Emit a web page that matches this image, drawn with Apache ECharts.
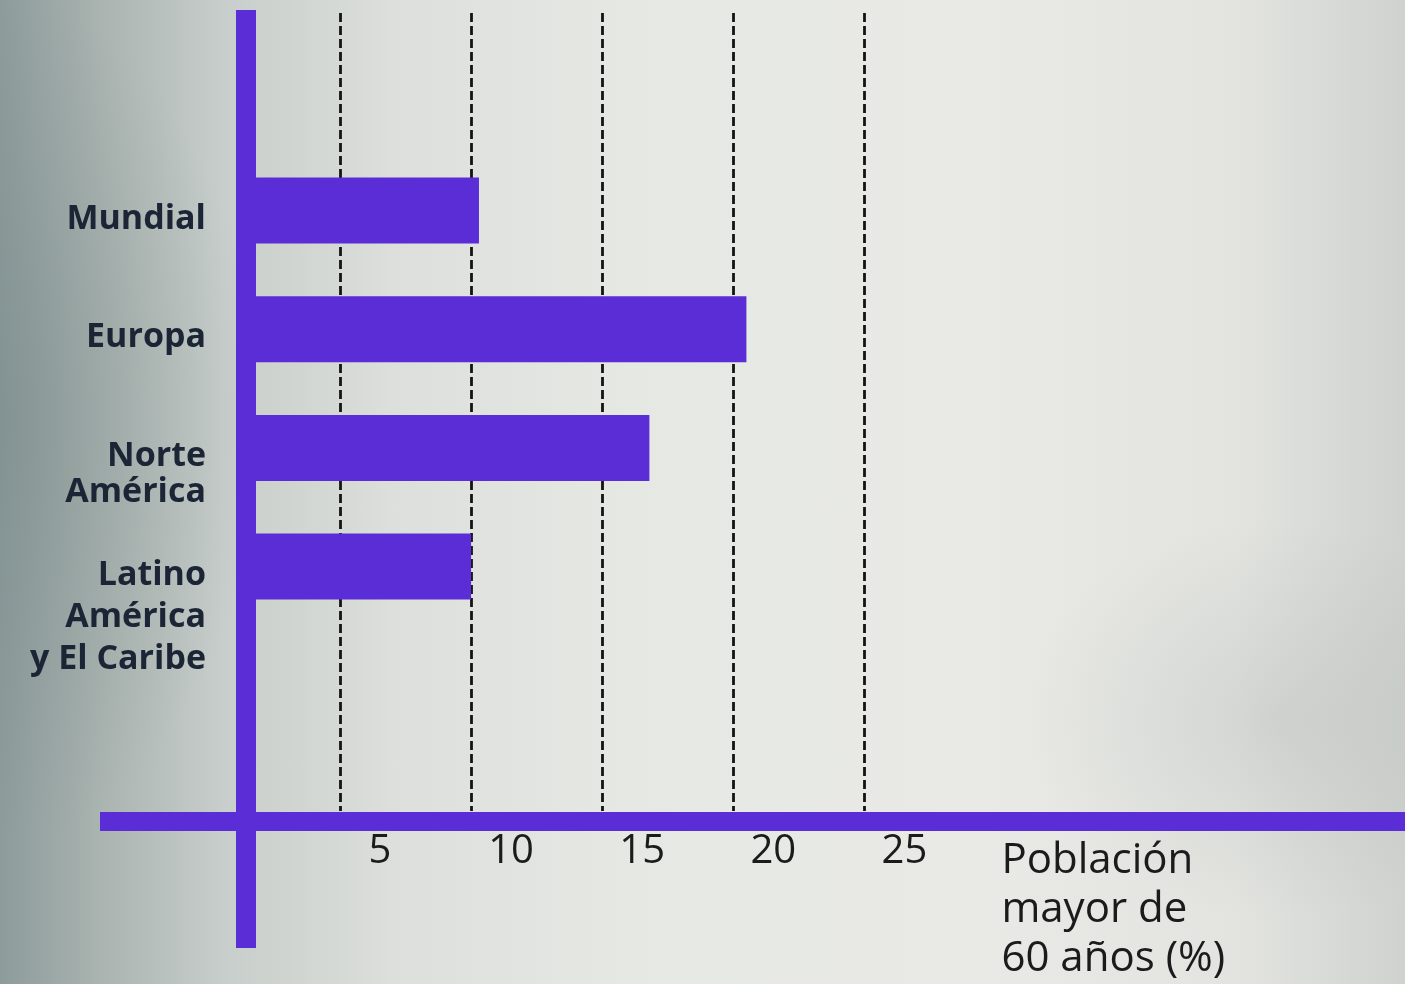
<!DOCTYPE html>
<html>
<head>
<meta charset="utf-8">
<script src="https://cdn.jsdelivr.net/npm/echarts@6/dist/echarts.min.js"></script>
<style>
  html, body { margin: 0; padding: 0; width: 1405px; height: 984px; overflow: hidden; }
  body {
    background:
      radial-gradient(ellipse 260px 420px at 0px 420px, rgba(110,130,130,0.35), rgba(110,130,130,0) 100%),
      radial-gradient(ellipse 260px 200px at 1280px 720px, rgba(150,158,158,0.22), rgba(150,158,158,0) 100%),
      linear-gradient(to right, #8d9b9b 0%, #a9b3b0 7%, #c8cecb 16%, #dcdfdb 28%, #e6e8e4 45%, #e9eae6 70%, #e3e4e0 88%, #cfd2cf 100%);
  }
  #chart { width: 1405px; height: 984px; }
</style>
</head>
<body>
<div id="chart"></div>
<script>
// ---- data ----
var categories = ['Mundial', 'Europa', 'Norte\nAmérica', 'Latino\nAmérica\ny El Caribe'];
var values = [10.3, 20.5, 16.8, 10.0];
var tickValues = [5, 10, 15, 20, 25];
var axisTitle = 'Población\nmayor de\n60 años (%)';

// ---- layout ----
var W = 1405, H = 984;
var PX0 = 208.9;      // pixel of value 0
var PXU = 26.22;      // pixels per unit
var VLINE_X = 246;    // vertical axis line
var HLINE_Y = 821;    // horizontal axis line
var PURPLE = '#5a2dd6';
var FONT = "'Open Sans', 'DejaVu Sans', sans-serif";
var tMin = tickValues[0], tMax = tickValues[tickValues.length - 1];
var tStep = tickValues[1] - tickValues[0];
var gridRight = PX0 + tMax * PXU;
var bandTop = 151.2, bandH = 474.7;

var chart = echarts.init(document.getElementById('chart'), null, { renderer: 'canvas' });

var option = {
  backgroundColor: 'transparent',
  animation: false,
  grid: [
    // 0: vertical axis line
    { left: VLINE_X, top: 10, width: 100, bottom: H - 948, containLabel: false },
    // 1: horizontal axis line
    { left: 100, right: 0, top: 10, bottom: H - HLINE_Y, containLabel: false },
    // 2: dashed grid lines and tick labels
    { left: PX0 + tMin * PXU, width: (tMax - tMin) * PXU, top: 13, bottom: H - HLINE_Y, containLabel: false },
    // 3: bars
    { left: VLINE_X, width: gridRight - VLINE_X, top: bandTop, height: bandH, containLabel: false }
  ],
  xAxis: [
    { gridIndex: 0, type: 'value', min: 0, max: 1, show: false },
    { gridIndex: 1, type: 'value', min: 0, max: 1,
      axisLine: { show: true, onZero: false, lineStyle: { color: PURPLE, width: 19, cap: 'butt' } },
      axisTick: { show: false }, axisLabel: { show: false }, splitLine: { show: false } },
    { gridIndex: 2, type: 'value', min: tMin, max: tMax, interval: tStep, offset: 5,
      axisLine: { show: false }, axisTick: { show: false },
      splitLine: { show: true, lineStyle: { color: '#141414', width: 2.8, type: [9, 4] } },
      axisLabel: {
        show: true, fontSize: 40, fontFamily: FONT, color: '#1b1b1b',
        margin: 16, align: 'center', padding: [0, 0, 0, 80]
      },
      name: axisTitle, nameLocation: 'end', nameGap: 137,
      nameTextStyle: {
        fontSize: 42, fontFamily: FONT, color: '#1b1b1b', lineHeight: 49,
        align: 'left', verticalAlign: 'top', padding: [26, 0, 0, 0]
      }
    },
    { gridIndex: 3, type: 'value', min: (VLINE_X - PX0) / PXU, max: tMax, show: false }
  ],
  yAxis: [
    { gridIndex: 0, type: 'value', min: 0, max: 1, position: 'left',
      axisLine: { show: true, onZero: false, lineStyle: { color: PURPLE, width: 20, cap: 'butt' } },
      axisTick: { show: false }, axisLabel: { show: false }, splitLine: { show: false } },
    { gridIndex: 1, type: 'value', min: 0, max: 1, show: false },
    { gridIndex: 2, type: 'value', min: 0, max: 1, show: false },
    { gridIndex: 3, type: 'category', inverse: true, data: categories,
      axisLine: { show: false, onZero: false }, axisTick: { show: false }, splitLine: { show: false },
      axisLabel: {
        show: true, interval: 0, hideOverlap: false, margin: 40, align: 'right', verticalAlign: 'middle',
        padding: [17, 0, 0, 0],
        formatter: function (v) {
          var lines = v.split('\n');
          var k = lines.length >= 3 ? 'l' : 'n';
          var out = [];
          for (var i = 0; i < lines.length - 1; i++) out.push('{' + k + '| }');
          for (var j = 0; j < lines.length; j++) out.push('{' + k + '|' + lines[j] + '}');
          return out.join('\n');
        },
        rich: {
          n: { fontSize: 34, fontWeight: 'bold', fontFamily: FONT, color: '#1c2535', lineHeight: 36, align: 'right' },
          l: { fontSize: 34, fontWeight: 'bold', fontFamily: FONT, color: '#1c2535', lineHeight: 42, align: 'right' }
        }
      }
    }
  ],
  series: [
    {
      type: 'bar', xAxisIndex: 3, yAxisIndex: 3,
      data: values, barWidth: 66, clip: true, z: 3,
      itemStyle: { color: PURPLE },
      silent: true
    }
  ]
};
chart.setOption(option);
</script>
</body>
</html>
